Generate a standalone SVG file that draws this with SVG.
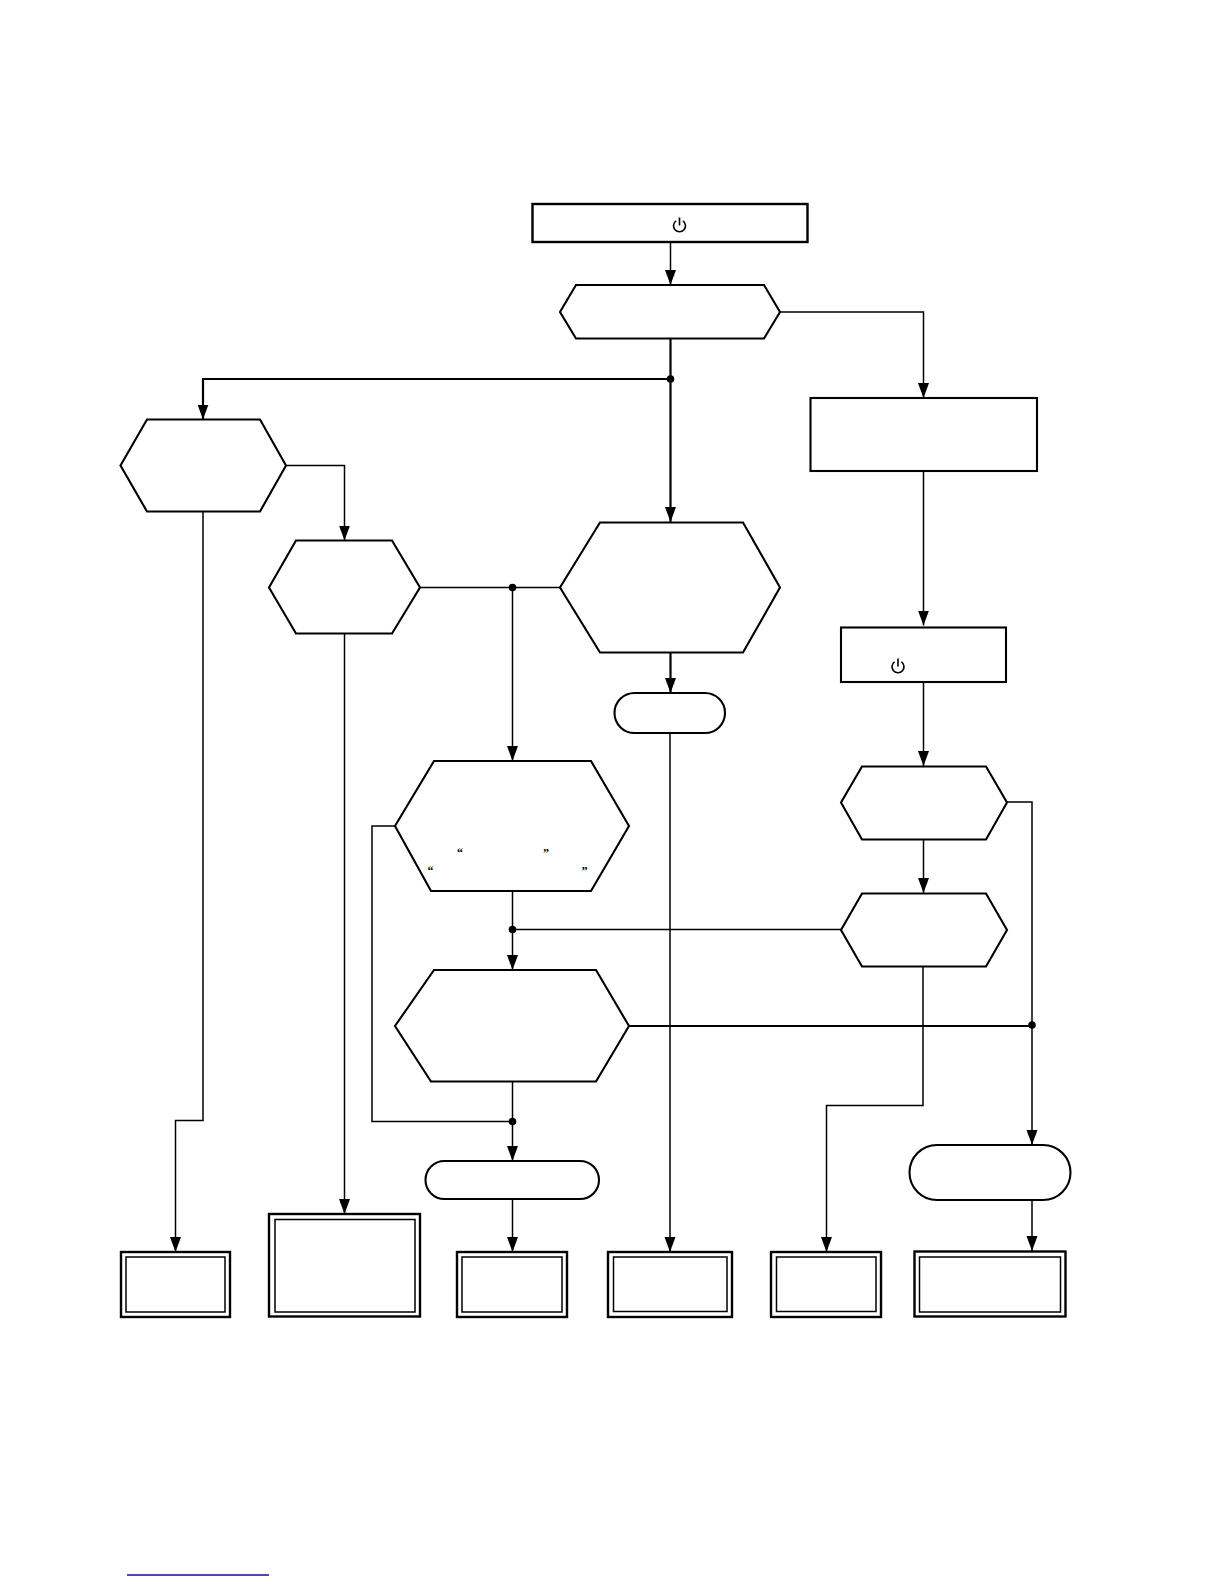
<svg xmlns="http://www.w3.org/2000/svg" width="1224" height="1584" viewBox="0 0 1224 1584">
<style>
.n{fill:#fff;stroke:#000;stroke-width:2.4}
.o{fill:#fff;stroke:#000;stroke-width:2.1}
.t{fill:#fff;stroke:#000;stroke-width:2.4}
.i{fill:none;stroke:#000;stroke-width:1.5}
.c{fill:none;stroke:#000;stroke-width:1.5}
.c2{fill:none;stroke:#000;stroke-width:2.2}
.q{font-family:"Liberation Serif",serif;font-size:12px;font-weight:bold;fill:#000;text-anchor:middle}
</style>
<defs>
<marker id="ah2" markerUnits="userSpaceOnUse" markerWidth="16" markerHeight="12" refX="15" refY="6" orient="auto"><path d="M0 .5L15 6L0 11.5Z" fill="#000"/></marker>
<g id="pw"><path d="M-3.400 -4.200A6 6 0 1 0 3.400 -4.200" fill="none" stroke="#000" stroke-width="1.600"/><path d="M0 -7.500V0.500" stroke="#000" stroke-width="1.600"/></g>
</defs>
<rect width="1224" height="1584" fill="#fff"/>
<g id="connectors">
<path class="c" marker-end="url(#ah2)" d="M670.500 242V285"/>
<path class="c2" marker-end="url(#ah2)" d="M670.500 338V522"/>
<path class="c2" marker-end="url(#ah2)" d="M670.500 379H203V419.500"/>
<path class="c" marker-end="url(#ah2)" d="M780 312H923.500V398"/>
<path class="c" marker-end="url(#ah2)" d="M923.500 471V625.500"/>
<path class="c" marker-end="url(#ah2)" d="M923.500 682V766"/>
<path class="c" marker-end="url(#ah2)" d="M923.500 839V893"/>
<path class="c" marker-end="url(#ah2)" d="M923 966V1105.500H826.500V1252"/>
<path class="c" marker-end="url(#ah2)" d="M1007 802H1032V1145"/>
<path class="c" marker-end="url(#ah2)" d="M1032 1200V1251"/>
<path class="c2" d="M629 1026H1032"/>
<path class="c" marker-end="url(#ah2)" d="M286 465.500H344.500V540.500"/>
<path class="c" marker-end="url(#ah2)" d="M203 511V1120.500H175.500V1252"/>
<path class="c" marker-end="url(#ah2)" d="M344.500 633V1214"/>
<path class="c" d="M420 587.500H560"/>
<path class="c" marker-end="url(#ah2)" d="M512.500 587.500V761"/>
<path class="c2" marker-end="url(#ah2)" d="M670.500 652V693"/>
<path class="c" marker-end="url(#ah2)" d="M670 733V1252"/>
<path class="c" marker-end="url(#ah2)" d="M512.500 891V970"/>
<path class="c" d="M512.500 929.500H841"/>
<path class="c" marker-end="url(#ah2)" d="M512.500 1081V1161"/>
<path class="c" d="M395 826H372V1121.500H512.500"/>
<path class="c" marker-end="url(#ah2)" d="M512.500 1199V1252"/>
<circle cx="670.500" cy="379" r="3.800"/>
<circle cx="512.500" cy="587.500" r="3.800"/>
<circle cx="512.500" cy="929.500" r="3.800"/>
<circle cx="512.500" cy="1121.500" r="3.800"/>
<circle cx="1032" cy="1025" r="3.800"/>
</g>
<g id="n-start"><rect class="n" x="532.500" y="204" width="275" height="38"/><use href="#pw" x="679.500" y="225"/></g>
<g id="n-hex1"><path class="o" d="M576 285H764L780 312L764 338.500H576L560 312Z"/></g>
<g id="n-hex2"><path class="o" d="M147 419.500H260L286 465.500L260 511.500H147L120.500 465.500Z"/></g>
<g id="n-hex3"><path class="o" d="M296 540.500H392L420 587.500L392 633.500H296L269 587.500Z"/></g>
<g id="n-hex-big"><path class="o" d="M600 522.500H743L780 587.500L743 652.500H600L560 587.500Z"/></g>
<g id="n-rect-right"><rect class="o" x="810.500" y="398" width="226.500" height="73"/></g>
<g id="n-rect-power"><rect class="o" x="841" y="627.500" width="165" height="54.500"/><use href="#pw" x="898" y="666"/></g>
<g id="n-pill"><rect class="o" x="614.500" y="693" width="110.500" height="40" rx="20"/></g>
<g id="n-hex4"><path class="o" d="M434 761H591L629 826L591 891H431L395 826Z"/>
<text class="q" x="460" y="856.500">“</text><text class="q" x="546" y="856.500">”</text><text class="q" x="430.500" y="875">“</text><text class="q" x="584.500" y="875">”</text></g>
<g id="n-hex6"><path class="o" d="M862 766.500H986L1007 802.500L986 839.500H862L841 802.500Z"/></g>
<g id="n-hex7"><path class="o" d="M862 893.500H986L1007 930L986 966.500H862L841 930Z"/></g>
<g id="n-hex5"><path class="o" d="M434 970H596L629 1026L596 1081.500H431L395 1026Z"/></g>
<g id="n-pill2"><rect class="o" x="425.500" y="1161" width="173.500" height="38" rx="19"/></g>
<g id="n-pill3"><rect class="o" x="909.500" y="1145" width="161" height="55" rx="27.500"/></g>
<g id="n-end1"><rect class="t" x="121" y="1252" width="109" height="65"/><rect class="i" x="126" y="1257" width="99" height="55"/></g>
<g id="n-end2"><rect class="t" x="269" y="1214" width="151" height="102.500"/><rect class="i" x="275" y="1219.500" width="140" height="92.500"/></g>
<g id="n-end3"><rect class="t" x="457" y="1252" width="110" height="65"/><rect class="i" x="462" y="1257" width="100" height="55"/></g>
<g id="n-end4"><rect class="t" x="608" y="1252" width="124" height="65"/><rect class="i" x="613.500" y="1257" width="113.500" height="54.500"/></g>
<g id="n-end5"><rect class="t" x="771" y="1252" width="110" height="65"/><rect class="i" x="776.500" y="1257" width="99.500" height="54.500"/></g>
<g id="n-end6"><rect class="t" x="914.500" y="1251.500" width="151" height="65"/><rect class="i" x="919.500" y="1257" width="141" height="55"/></g>
<path d="M127 1575H269" stroke="#101090" stroke-width="1.300" fill="none"/>
</svg>
